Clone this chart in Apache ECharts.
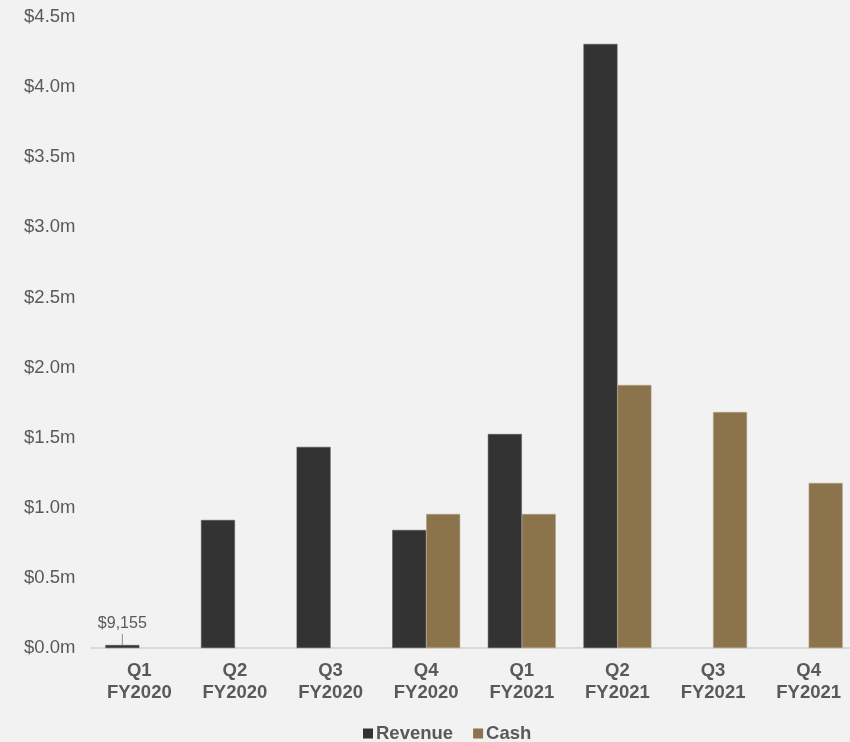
<!DOCTYPE html>
<html><head><meta charset="utf-8">
<script src="https://cdn.jsdelivr.net/npm/echarts@6/dist/echarts.min.js"></script>
<style>html,body{margin:0;padding:0;background:#f2f2f2;overflow:hidden;width:850px;height:742px;}#c{width:857px;height:742px;}</style>
</head><body><div id="c"></div>
<script>
const categories = ['Q1\nFY2020','Q2\nFY2020','Q3\nFY2020','Q4\nFY2020','Q1\nFY2021','Q2\nFY2021','Q3\nFY2021','Q4\nFY2021'];
// values in $ millions
const revenue = [0.009155, 0.913, 1.434, 0.842, 1.526, 4.308, null, null];
const cash = [null, null, null, 0.956, 0.956, 1.876, 1.683, 1.177];
const yTicks = ['$0.0m','$0.5m','$1.0m','$1.5m','$2.0m','$2.5m','$3.0m','$3.5m','$4.0m','$4.5m'];
const firstLabel = '$9,155';

const chart = echarts.init(document.getElementById('c'));
const txt = '#595959';
const ff = 'Liberation Sans, Arial, sans-serif';
chart.setOption({
  backgroundColor: '#f2f2f2',
  animation: false,
  textStyle: {fontFamily: ff},
  grid: {left: 91.5, right: 0.5, top: 17, bottom: 94},
  legend: {
    top: 719, left: 358, itemWidth: 10, itemHeight: 10, itemGap: 20,
    icon: 'rect',
    itemStyle: {borderWidth: 0},
    textStyle: {color: txt, fontSize: 18.5, fontWeight: 'bold', fontFamily: ff, padding: [0,0,0,-2]},
    data: ['Revenue','Cash']
  },
  xAxis: {
    type: 'category', data: categories,
    axisLine: {lineStyle: {color: '#d9d9d9', width: 2}},
    axisTick: {show: false},
    axisLabel: {color: txt, fontSize: 18.5, fontWeight: 'bold', fontFamily: ff, lineHeight: 22, margin: 12, interval: 0}
  },
  yAxis: {
    type: 'value', min: 0, max: 4.5, interval: 0.5,
    splitLine: {show: false},
    axisLine: {show: false}, axisTick: {show: false},
    axisLabel: {color: txt, fontSize: 18.5, fontFamily: ff, margin: 16,
      formatter: v => yTicks[Math.round(v/0.5)]}
  },
  series: [
    {name: 'Revenue', type: 'bar', data: revenue, barWidth: '35.5%', barGap: '0%', barMinHeight: 3,
      itemStyle: {color: '#333333', borderColor: '#555555', borderWidth: 0.5},
      label: {show: true, position: 'top', distance: 0,
        formatter: p => p.dataIndex === 0 ? '{a|' + firstLabel + '}\n{b|}' : '',
        rich: {
          a: {color: txt, fontSize: 16, lineHeight: 20, fontFamily: ff},
          b: {width: 1, height: 11, backgroundColor: '#8c8c8c'}
        }
      }
    },
    {name: 'Cash', type: 'bar', data: cash, barWidth: '35.5%', barGap: '0%',
      itemStyle: {color: '#8b734b', borderColor: '#b3a184', borderWidth: 0.5}
    }
  ]
});
</script></body></html>
